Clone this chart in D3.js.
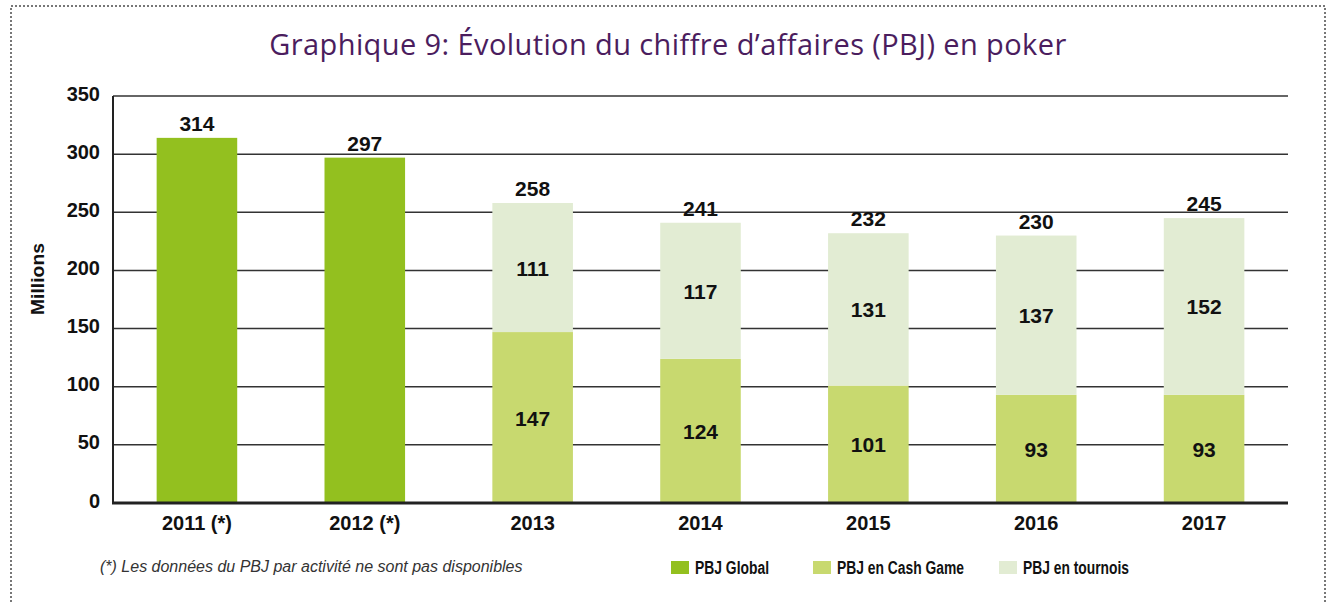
<!DOCTYPE html>
<html>
<head>
<meta charset="utf-8">
<script src="https://cdn.jsdelivr.net/npm/d3@7"></script>
<style>
  body { margin: 0; background: #fff; }
  svg { display: block; }
  text { font-family: "Liberation Sans", Arial, sans-serif; }
</style>
</head>
<body>
<svg id="chart" width="1332" height="604"></svg>
<script>
// data
var years = ["2011 (*)", "2012 (*)", "2013", "2014", "2015", "2016", "2017"];
var totals = [314, 297, 258, 241, 232, 230, 245];
var cashGame = [null, null, 147, 124, 101, 93, 93];
var tournois = [null, null, 111, 117, 131, 137, 152];
var yTicks = [0, 50, 100, 150, 200, 250, 300, 350];
var legendLabels = ["PBJ Global", "PBJ en Cash Game", "PBJ en tournois"];
var colors = ["#93c01f", "#c8d96f", "#e2ecd3"];

var svg = d3.select("#chart");
var mLeft = 113, mRight = 1288, mTop = 96, mBottom = 503;

// dotted frame
svg.append("rect")
    .attr("x", 11).attr("y", 6)
    .attr("width", 1314).attr("height", 620)
    .attr("fill", "none")
    .attr("stroke", "#777")
    .attr("stroke-width", 2)
    .attr("stroke-dasharray", "2,2");

svg.append("text")
    .attr("x", 668).attr("y", 55)
    .attr("text-anchor", "middle")
    .attr("fill", "#4b1d5e")
    .style("font-family", "'Open Sans', 'Noto Sans', sans-serif")
    .style("font-size", "29px")
    .style("letter-spacing", "0.4px")
    .text("Graphique 9: Évolution du chiffre d’affaires (PBJ) en poker");

var x = d3.scaleBand().domain(years).range([mLeft, mRight]).paddingInner(0.52).paddingOuter(0.26);
var y = d3.scaleLinear().domain([0, 350]).range([mBottom, mTop]);

// grid
svg.append("g").selectAll("line")
    .data(yTicks.filter(function(d){ return d > 0; }))
    .enter().append("line")
    .attr("x1", mLeft).attr("x2", mRight)
    .attr("y1", function(d){ return y(d); })
    .attr("y2", function(d){ return y(d); })
    .attr("stroke", "#333")
    .attr("stroke-width", 1.5);

// y axis labels
var yAxis = d3.axisLeft(y).tickValues(yTicks).tickSize(0).tickPadding(13);
var gy = svg.append("g").attr("transform", "translate(" + mLeft + ",0)").call(yAxis);
gy.select(".domain").remove();
gy.selectAll("text")
    .attr("dy", "0.2em")
    .style("font-family", "'Liberation Sans', Arial, sans-serif")
    .style("font-size", "20px")
    .style("font-weight", "bold")
    .attr("fill", "#111");

svg.append("text")
    .attr("transform", "translate(44,279) rotate(-90)")
    .attr("text-anchor", "middle")
    .style("font-size", "19px")
    .style("font-weight", "bold")
    .attr("fill", "#111")
    .attr("textLength", 72)
    .attr("lengthAdjust", "spacingAndGlyphs")
    .text("Millions");

var idx = d3.range(years.length);

// global bars (no breakdown)
svg.append("g").selectAll("rect")
    .data(idx.filter(function(i){ return cashGame[i] === null; }))
    .enter().append("rect")
    .attr("x", function(i){ return x(years[i]); })
    .attr("width", x.bandwidth())
    .attr("y", function(i){ return y(totals[i]); })
    .attr("height", function(i){ return y(0) - y(totals[i]); })
    .attr("fill", colors[0]);

var split = idx.filter(function(i){ return cashGame[i] !== null; });

// cash game segment
svg.append("g").selectAll("rect")
    .data(split)
    .enter().append("rect")
    .attr("x", function(i){ return x(years[i]); })
    .attr("width", x.bandwidth())
    .attr("y", function(i){ return y(cashGame[i]); })
    .attr("height", function(i){ return y(0) - y(cashGame[i]); })
    .attr("fill", colors[1]);

// tournois segment
svg.append("g").selectAll("rect")
    .data(split)
    .enter().append("rect")
    .attr("x", function(i){ return x(years[i]); })
    .attr("width", x.bandwidth())
    .attr("y", function(i){ return y(cashGame[i] + tournois[i]); })
    .attr("height", function(i){ return y(cashGame[i]) - y(cashGame[i] + tournois[i]); })
    .attr("fill", colors[2]);

// axes lines
svg.append("line")
    .attr("x1", mLeft).attr("x2", mLeft)
    .attr("y1", mTop).attr("y2", mBottom)
    .attr("stroke", "#222").attr("stroke-width", 2);
svg.append("line")
    .attr("x1", mLeft - 1).attr("x2", mRight)
    .attr("y1", mBottom).attr("y2", mBottom)
    .attr("stroke", "#222").attr("stroke-width", 3);

// labels
var lab = svg.append("g")
    .style("font-size", "21px")
    .style("font-weight", "bold")
    .attr("fill", "#111")
    .attr("text-anchor", "middle");
var cx = function(i){ return x(years[i]) + x.bandwidth() / 2; };

lab.selectAll(".tot").data(idx).enter().append("text")
    .attr("class", "tot")
    .attr("x", cx)
    .attr("y", function(i){ return y(totals[i]) - 7; })
    .text(function(i){ return totals[i]; });

lab.selectAll(".cash").data(split).enter().append("text")
    .attr("class", "cash")
    .attr("x", cx)
    .attr("y", function(i){ return y(cashGame[i] / 2) + 8; })
    .text(function(i){ return cashGame[i]; });

lab.selectAll(".tour").data(split).enter().append("text")
    .attr("class", "tour")
    .attr("x", cx)
    .attr("y", function(i){ return y(cashGame[i] + tournois[i] / 2) + 8; })
    .text(function(i){ return tournois[i]; });

// x axis labels
svg.append("g").selectAll("text")
    .data(idx).enter().append("text")
    .attr("x", cx)
    .attr("y", 530)
    .attr("text-anchor", "middle")
    .style("font-size", "20px")
    .style("font-weight", "bold")
    .attr("fill", "#111")
    .text(function(i){ return years[i]; });

// footnote
svg.append("text")
    .attr("x", 100).attr("y", 572)
    .style("font-size", "16px")
    .style("font-style", "italic")
    .attr("fill", "#333")
    .text("(*) Les données du PBJ par activité ne sont pas disponibles");

// legend
var legX = [671, 813, 999];
var legW = [74, 127, 106];
var leg = svg.append("g").selectAll("g")
    .data(legendLabels).enter().append("g")
    .attr("transform", function(d, i){ return "translate(" + legX[i] + ",561)"; });
leg.append("rect")
    .attr("width", 18).attr("height", 13)
    .attr("fill", function(d, i){ return colors[i]; });
leg.append("text")
    .attr("x", 24).attr("y", 13)
    .style("font-size", "18px")
    .style("font-weight", "bold")
    .attr("fill", "#111")
    .attr("textLength", function(d, i){ return legW[i]; })
    .attr("lengthAdjust", "spacingAndGlyphs")
    .text(function(d){ return d; });
</script>
</body>
</html>
